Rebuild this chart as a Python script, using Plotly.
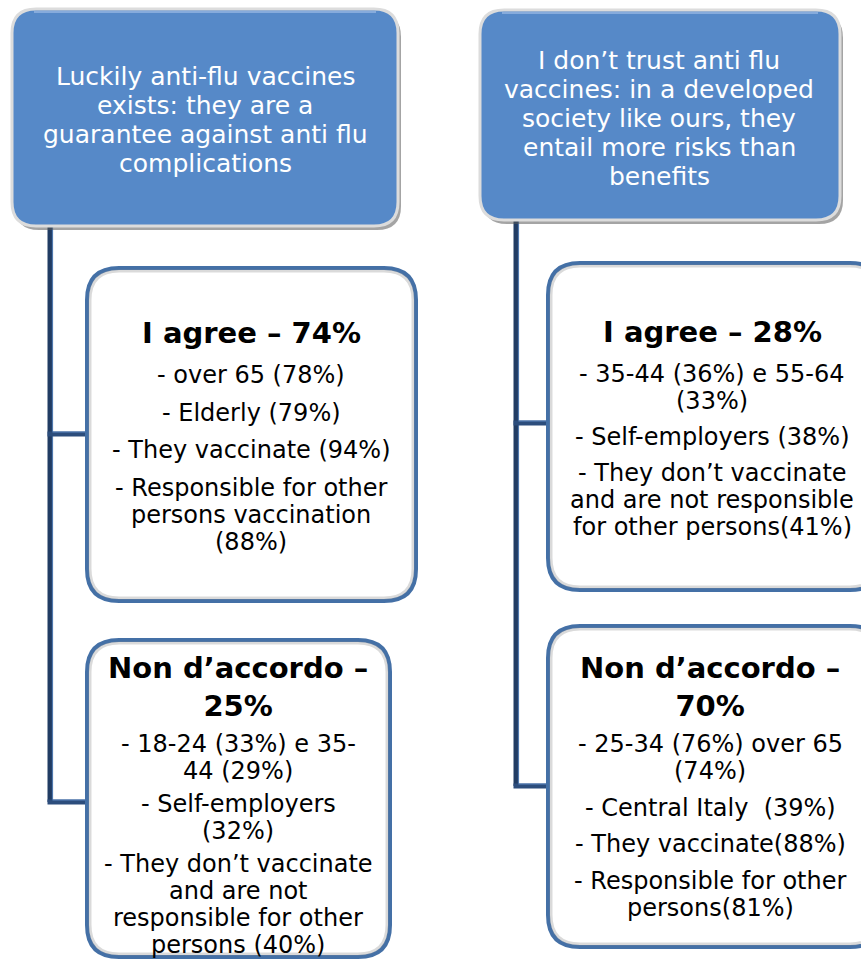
import plotly.graph_objects as go

# text content
header_lines = [
    ["Luckily anti-flu vaccines", "exists: they are a", "guarantee against anti flu", "complications"],
    ["I don’t trust anti flu", "vaccines: in a developed", "society like ours, they", "entail more risks than", "benefits"],
]

heading_lines = [
    ["I agree – 74%"],
    ["Non d’accordo –", "25%"],
    ["I agree – 28%"],
    ["Non d’accordo –", "70%"],
]

item_lines = [
    [["- over 65 (78%)"], ["- Elderly (79%)"], ["- They vaccinate (94%)"],
     ["- Responsible for other", "persons vaccination", "(88%)"]],
    [["- 18-24 (33%) e 35-", "44 (29%)"], ["- Self-employers", "(32%)"],
     ["- They don’t vaccinate", "and are not", "responsible for other", "persons (40%)"]],
    [["- 35-44 (36%) e 55-64", "(33%)"], ["- Self-employers (38%)"],
     ["- They don’t vaccinate", "and are not responsible", "for other persons(41%)"]],
    [["- 25-34 (76%) over 65", "(74%)"], ["- Central Italy  (39%)"], ["- They vaccinate(88%)"],
     ["- Responsible for other", "persons(81%)"]],
]

# layout (pixel space)
W, H = 861, 961
header_boxes = [(12, 9, 398, 226), (480, 10, 840, 220)]
header_text_pos = [(205, 120), (659, 118)]
white_boxes = [(87, 268, 416, 601), (87, 640, 390, 957), (548, 263, 882, 590), (548, 626, 882, 947)]
# x centre, first heading y, gap between items
text_pos = [(251, 333, 37.5), (238, 671, 33), (712, 332, 36), (710, 671, 36.5)]
trunks = [(50, 226, [434, 802]), (516, 220, [423, 786])]

FONT = "DejaVu Sans"


def rrect(x0, y0, x1, y1, r):
    return (f"M {x0+r},{y0} L {x1-r},{y0} Q {x1},{y0} {x1},{y0+r} "
            f"L {x1},{y1-r} Q {x1},{y1} {x1-r},{y1} L {x0+r},{y1} "
            f"Q {x0},{y1} {x0},{y1-r} L {x0},{y0+r} Q {x0},{y0} {x0+r},{y0} Z")


fig = go.Figure()
fig.add_trace(go.Scatter(x=[0, W], y=[0, H], mode="markers", marker=dict(opacity=0),
                         hoverinfo="skip", showlegend=False))

shapes = []
annotations = []

# connector lines
for x, ytop, ys in trunks:
    shapes.append(dict(type="line", x0=x, x1=x, y0=ytop, y1=ys[-1],
                       line=dict(color="#213c63", width=5), layer="below"))
    shapes.append(dict(type="line", x0=x + 2.5, x1=x + 2.5, y0=ytop, y1=ys[-1] - 2,
                       line=dict(color="#4f78ad", width=1.2), layer="below"))
    for y in ys:
        shapes.append(dict(type="line", x0=x - 2.5, x1=x + 40, y0=y, y1=y,
                           line=dict(color="#2c4d7c", width=5), layer="below"))
        shapes.append(dict(type="line", x0=x + 2.5, x1=x + 40, y0=y - 2, y1=y - 2,
                           line=dict(color="#5a86c0", width=1.2), layer="below"))

# blue header boxes
for (x0, y0, x1, y1), lines, (cx, cy) in zip(header_boxes, header_lines, header_text_pos):
    shapes.append(dict(type="path", path=rrect(x0 + 3, y0 + 4, x1 + 3, y1 + 4, 24),
                       fillcolor="rgba(90,90,90,0.55)", line=dict(width=0)))
    shapes.append(dict(type="path", path=rrect(x0, y0, x1, y1, 24),
                       fillcolor="#5689c8", line=dict(color="#dcdcdc", width=3)))
    shapes.append(dict(type="line", x0=x0 + 22, x1=x1 - 22, y0=y0 + 3, y1=y0 + 3,
                       line=dict(color="#86abdc", width=2)))
    start = cy - (len(lines) - 1) * 29 / 2
    for i, t in enumerate(lines):
        annotations.append(dict(x=cx, y=start + i * 29, text=t, showarrow=False,
                                xanchor="center", yanchor="middle",
                                font=dict(family=FONT, size=25, color="white")))

# white boxes with headings and items
for (x0, y0, x1, y1), head, items, (cx, hy, gap) in zip(white_boxes, heading_lines, item_lines, text_pos):
    shapes.append(dict(type="path", path=rrect(x0, y0, x1, y1, 32),
                       fillcolor="white", line=dict(color="#4470a6", width=4)))
    shapes.append(dict(type="path", path=rrect(x0 + 3, y0 + 3, x1 - 3, y1 - 3, 29),
                       fillcolor="rgba(0,0,0,0)", line=dict(color="rgba(150,150,150,0.35)", width=3)))
    span = (len(head) - 1) * 31
    annotations.append(dict(x=cx, y=hy + span / 2, text="<b>" + "<br>".join(head) + "</b>",
                            showarrow=False, xanchor="center", yanchor="middle",
                            font=dict(family=FONT, size=29, color="black")))
    y = hy + span + 42
    for k, item in enumerate(items):
        for j, t in enumerate(item):
            annotations.append(dict(x=cx, y=y, text=t, showarrow=False,
                                    xanchor="center", yanchor="middle",
                                    font=dict(family=FONT, size=24, color="black")))
            if j < len(item) - 1:
                y += 27
        y += gap

fig.update_layout(
    width=W, height=H,
    margin=dict(l=0, r=0, t=0, b=0),
    paper_bgcolor="white", plot_bgcolor="white",
    xaxis=dict(range=[0, W], visible=False, fixedrange=True),
    yaxis=dict(range=[H, 0], visible=False, fixedrange=True),
    shapes=shapes, annotations=annotations,
    showlegend=False,
)

# drop the default page margin so the figure sits at the top-left corner
fig.write_html("out.html", config={"displayModeBar": False},
               post_script="document.body.style.margin='0';document.body.style.overflow='hidden';")
